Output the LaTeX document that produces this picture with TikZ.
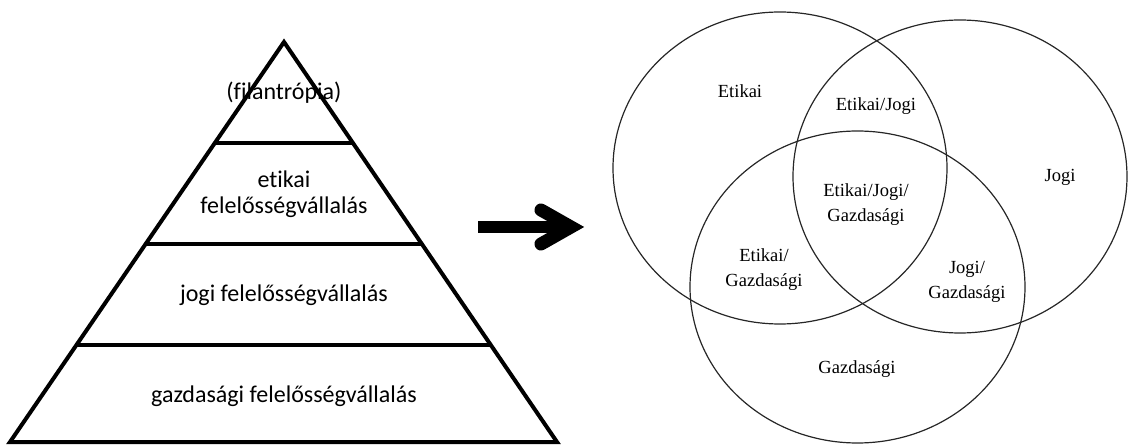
\documentclass[tikz,border=0pt]{standalone}
\usepackage{fontspec}
\setmainfont{Liberation Serif}
\newfontfamily\calibrifont[RawFeature={-liga;-clig;-dlig}]{Carlito}
\usetikzlibrary{calc, positioning}

\begin{document}
\begin{tikzpicture}[
        x=1pt, y=-1pt,
        pyrtext/.style={
            inner sep=0pt, align=center, font=\calibrifont\fontsize{24}{26}\selectfont
        },
        venntext/.style={
            inner sep=0pt, align=center, font=\fontsize{18.5}{25}\selectfont
        },
        pyrline/.style={line width=4pt, line join=miter, black},
        venn/.style={line width=1.2pt, color=black!85},
        bigshaft/.style={line width=12pt, black},
        chevron/.style={line width=13pt, black, line cap=round, line join=miter}
    ]
        \useasboundingbox (0,0) rectangle (1128,446);

        % Pyramid texts
        \node[pyrtext] (fil) at (284,93) {(filantrópia)};
        \node[pyrtext] (eti) at (284,194) {etikai\\felelősségvállalás};
        \node[pyrtext] (jog) at (284,295) {jogi felelősségvállalás};
        \node[pyrtext] (gaz) at (284,396) {gazdasági felelősségvállalás};

        % Pyramid
        \coordinate (apex) at (284,42);
        \coordinate (bl) at (10,442);
        \coordinate (br) at (557,442);
        \draw[pyrline] (apex) -- (br) -- (bl) -- cycle;
        \foreach \f in {0.2525, 0.505, 0.7575}
            \draw[pyrline] ($(apex)!\f!(bl)$) -- ($(apex)!\f!(br)$);

        % Arrow
        \coordinate (arrowtail) at (478,227);
        \coordinate (arrowtip) at (571,227);
        \draw[bigshaft] (arrowtail) -- ($(arrowtip)+(-6,0)$);
        \draw[chevron] ($(arrowtip)+(-30,-17)$) -- (arrowtip) -- ($(arrowtip)+(-30,17)$);

        % Venn
        \draw[venn] (780,168) ellipse [x radius=167pt, y radius=156pt];
        \draw[venn] (960,176.5) ellipse [x radius=167pt, y radius=156.5pt];
        \draw[venn] (857.5,287) ellipse [x radius=167.5pt, y radius=156pt];

        \node[venntext] (e) at (740,91) {Etikai};
        \node[venntext] (ej) at (876,106) {Etikai/Jogi};
        \node[venntext] (j) at (1060,177) {Jogi};
        \node[venntext] (ejg) at (866,205) {Etikai/Jogi/\\Gazdasági};
        \node[venntext] (eg) at (764,270) {Etikai/\\Gazdasági};
        \node[venntext] (jg) at (967,281.5) {Jogi/\\Gazdasági};
        \node[venntext] (g) at (857,369) {Gazdasági};

    \end{tikzpicture}
\end{document}
